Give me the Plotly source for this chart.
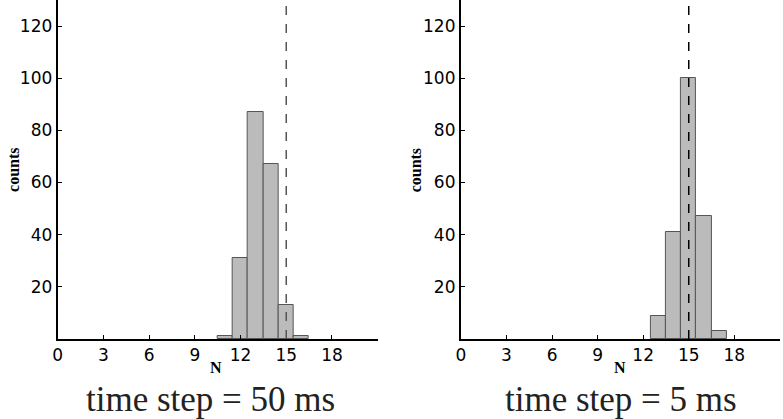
import plotly.graph_objects as go

# histogram bins (N) and counts for each time step
n_50ms = [11, 12, 13, 14, 15, 16]
counts_50ms = [1, 31, 87, 67, 13, 1]

n_5ms = [13, 14, 15, 16, 17]
counts_5ms = [9, 41, 100, 47, 3]

true_n = 15
x_ticks = [0, 3, 6, 9, 12, 15, 18]
y_ticks = [20, 40, 60, 80, 100, 120]

panel_titles = ["time step = 50 ms", "time step = 5 ms"]

W, H = 783, 419
PLOT_H = 339  # height of the axes area in pixels


def axis_style(domain, is_x, anchor):
    """Common matplotlib-like axis look"""
    d = dict(
        domain=domain,
        anchor=anchor,
        showline=True,
        linecolor='black',
        linewidth=2,
        showgrid=False,
        zeroline=False,
        ticks='inside',
        ticklen=4,
        tickcolor='black',
        tickfont=dict(family='DejaVu Sans', size=17, color='black'),
        ticklabelstandoff=0,
    )
    if is_x:
        d.update(range=[0, 21], tickvals=x_ticks)
    else:
        d.update(range=[0, 130], tickvals=y_ticks)
    return d


fig = go.Figure()

bar_style = dict(
    marker=dict(color='#bbbbbb', line=dict(color='#555555', width=1)),
    width=1,
    showlegend=False,
)

fig.add_trace(go.Bar(x=n_50ms, y=counts_50ms, xaxis='x', yaxis='y', **bar_style))
fig.add_trace(go.Bar(x=n_5ms, y=counts_5ms, xaxis='x2', yaxis='y2', **bar_style))

# dashed reference line at the true N
fig.add_shape(type='line', xref='x', yref='y domain', x0=true_n, x1=true_n, y0=0, y1=1,
              line=dict(color='#555555', width=1.5, dash='dash'))
fig.add_shape(type='line', xref='x2', yref='y2 domain', x0=true_n, x1=true_n, y0=0, y1=1,
              line=dict(color='black', width=1.5, dash='dash'))

fig.update_layout(
    width=W,
    height=H,
    margin=dict(l=0, r=0, t=0, b=H - PLOT_H),
    plot_bgcolor='white',
    paper_bgcolor='white',
    bargap=0,
    xaxis=axis_style([0.0677, 0.479], True, 'y'),
    yaxis=axis_style([0, 1], False, 'x'),
    xaxis2=axis_style([0.586, 0.996], True, 'y2'),
    yaxis2=axis_style([0, 1], False, 'x2'),
)

serif_bold = dict(family='Liberation Serif', size=16, color='black')
title_font = dict(family='Liberation Serif', size=35, color='#222222')


def px_y(y):
    """pixel row -> paper y"""
    return (PLOT_H - y) / PLOT_H


annotations = []
# x label centre, y label centre, title centre (pixels)
for n_x, c_x, t_x, title in [(212, 8, 207, panel_titles[0]), (619, 413, 620, panel_titles[1])]:
    annotations.append(dict(text='<b>N</b>', x=n_x / W, y=px_y(367), font=serif_bold))
    annotations.append(dict(text='<b>counts</b>', x=c_x / W, y=px_y(170), textangle=-90,
                            font=serif_bold))
    annotations.append(dict(text=title, x=t_x / W, y=px_y(399), font=title_font))
for a in annotations:
    a.update(xref='paper', yref='paper', showarrow=False, xanchor='center', yanchor='middle')
fig.update_layout(annotations=annotations)

fig.write_html("out.html", config={'displayModeBar': False},
               post_script="document.body.style.margin='0';")
